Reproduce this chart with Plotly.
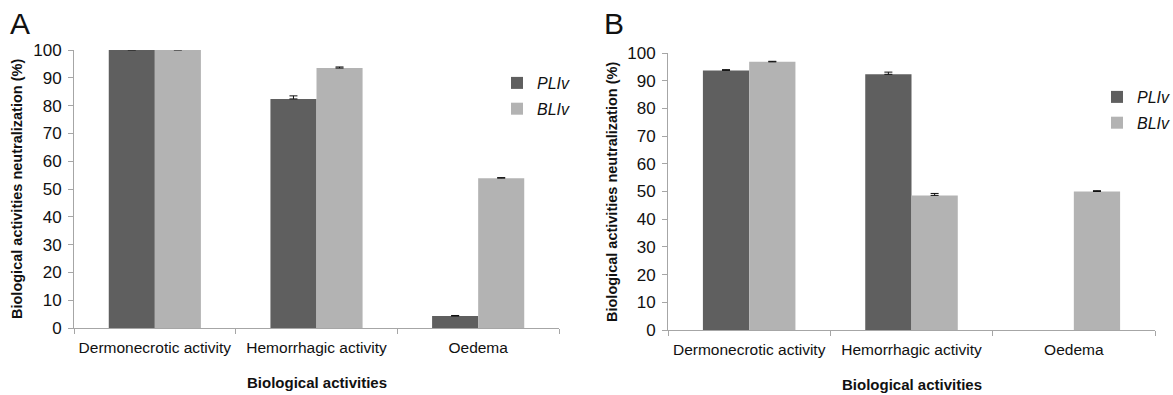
import plotly.graph_objects as go

categories = ["Dermonecrotic activity", "Hemorrhagic activity", "Oedema"]

# Panel A
a_pliv = [100.0, 82.4, 4.3]
a_pliv_err = [0.2, 1.1, 0.2]
a_bliv = [100.0, 93.5, 53.9]
a_bliv_err = [0.2, 0.4, 0.2]

# Panel B
b_pliv = [93.7, 92.3, None]
b_pliv_err = [0.3, 0.8, 0]
b_bliv = [96.8, 48.6, 50.0]
b_bliv_err = [0.2, 0.7, 0.3]

y_ticks = [0, 10, 20, 30, 40, 50, 60, 70, 80, 90, 100]

DARK = "#5f5f5f"
LIGHT = "#b3b3b3"
AXIS = "#a6a6a6"
FONT = "Liberation Sans, Arial, sans-serif"

fig = go.Figure()


def add_pair(pliv, pliv_err, bliv, bliv_err, xa, ya, leg):
    fig.add_trace(go.Bar(
        x=categories, y=pliv, name="PLIv", marker_color=DARK,
        marker_line_width=0, xaxis=xa, yaxis=ya, legend=leg, legendgroup=leg + "p",
        error_y=dict(type="data", array=pliv_err, arrayminus=[0] * 3, symmetric=False,
                     color="#111111", thickness=1, width=4),
    ))
    fig.add_trace(go.Bar(
        x=categories, y=bliv, name="BLIv", marker_color=LIGHT,
        marker_line_width=0, xaxis=xa, yaxis=ya, legend=leg, legendgroup=leg + "b",
        error_y=dict(type="data", array=bliv_err, arrayminus=[0] * 3, symmetric=False,
                     color="#111111", thickness=1, width=4),
    ))


add_pair(a_pliv, a_pliv_err, a_bliv, a_bliv_err, "x", "y", "legend")
add_pair(b_pliv, b_pliv_err, b_bliv, b_bliv_err, "x2", "y2", "legend2")

W, H = 1173, 395

xax = dict(showline=True, linecolor=AXIS, linewidth=1, ticks="outside", tickson="boundaries",
           ticklen=5, tickcolor=AXIS, showgrid=False, zeroline=False, automargin=False,
           tickangle=0, ticklabelstandoff=5,
           tickfont=dict(family=FONT, size=15.5, color="#111111"))
yax = dict(showline=True, linecolor=AXIS, linewidth=1, ticks="outside", ticklen=5,
           tickcolor=AXIS, showgrid=False, zeroline=False, range=[0, 100], automargin=False,
           tickvals=y_ticks, ticklabelstandoff=3,
           tickfont=dict(family=FONT, size=17, color="#111111"))

legfont = dict(family=FONT, size=16, color="#111111", style="italic")


def ann(text, x, y, size, angle=0):
    return dict(text=text, x=x / W, y=1 - y / H, xref="paper", yref="paper",
                xanchor="center", yanchor="middle", textangle=angle, showarrow=False,
                font=dict(family=FONT, size=size, color="#111111"))


fig.update_layout(
    width=W, height=H,
    margin=dict(l=0, r=0, t=0, b=0, autoexpand=False),
    paper_bgcolor="white", plot_bgcolor="white",
    barmode="group", bargap=0.43, bargroupgap=0,
    showlegend=True,
    xaxis=dict(xax, domain=[74 / W, 559 / W], anchor="y"),
    yaxis=dict(yax, domain=[1 - 328 / H, 1 - 50 / H], anchor="x"),
    xaxis2=dict(xax, domain=[668 / W, 1155 / W], anchor="y2"),
    yaxis2=dict(yax, domain=[1 - 330 / H, 1 - 53 / H], anchor="x2"),
    legend=dict(x=497 / W, y=1 - 66 / H, xanchor="left", yanchor="top",
                font=legfont, bgcolor="rgba(0,0,0,0)", tracegroupgap=2,
                traceorder="grouped"),
    legend2=dict(x=1097 / W, y=1 - 80 / H, xanchor="left", yanchor="top",
                 font=legfont, bgcolor="rgba(0,0,0,0)", tracegroupgap=2,
                 traceorder="grouped"),
    annotations=[
        ann("A", 20, 24, 30),
        ann("B", 614, 24, 30),
        ann("<b>Biological activities neutralization (%)</b>", 17, 189, 14.5, -90),
        ann("<b>Biological activities neutralization (%)</b>", 612, 192, 14.5, -90),
        ann("<b>Biological activities</b>", 317, 382, 15),
        ann("<b>Biological activities</b>", 912, 384, 15),
    ],
)

fig.write_html("out.html")
